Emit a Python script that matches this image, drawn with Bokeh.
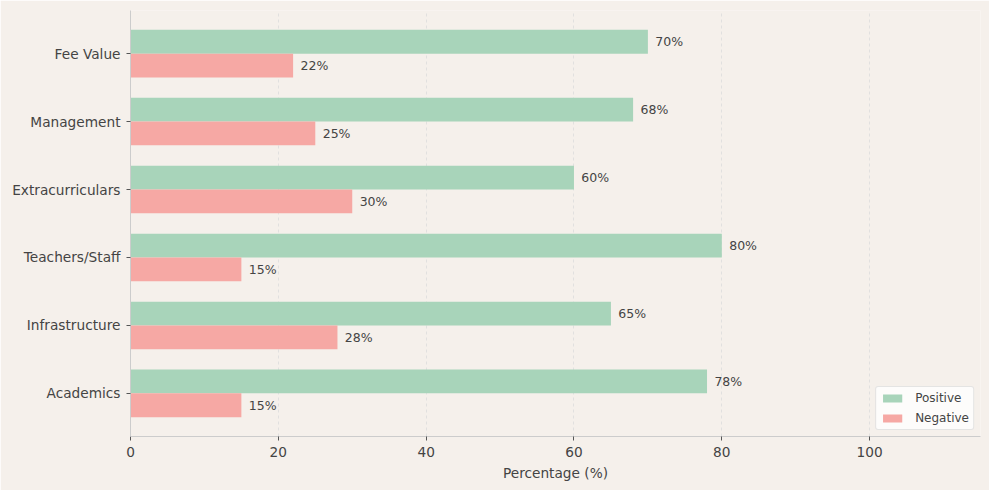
import numpy as np
from bokeh.plotting import figure
from bokeh.models import ColumnDataSource, FixedTicker, Legend, LegendItem, Range1d
from bokeh.core.properties import value
from bokeh.embed import file_html
from bokeh.resources import INLINE

categories = ["Academics", "Infrastructure", "Teachers/Staff", "Extracurriculars", "Management", "Fee Value"]
positive = [78, 65, 80, 60, 68, 70]
negative = [15, 28, 15, 30, 25, 22]
x_ticks = [0, 20, 40, 60, 80, 100]

BG = "#f5f0eb"
GREEN = "#a8d4ba"
RED = "#f6a8a4"
TXT = "#444444"
FONT = "DejaVu Sans"
BW = 0.35

ys = np.arange(len(categories))
src = ColumnDataSource(dict(
    y_pos=ys + BW / 2, y_neg=ys - BW / 2,
    pos=positive, neg=negative,
    pos_lbl=[f"{v}%" for v in positive], neg_lbl=[f"{v}%" for v in negative],
    pos_x=[v + 1 for v in positive], neg_x=[v + 1 for v in negative],
))

p = figure(width=989, height=490, output_backend="svg", toolbar_location=None,
           x_range=Range1d(0, 115), y_range=Range1d(-0.635, len(categories) - 1 + 0.635),
           min_border_left=130, min_border_right=9, min_border_top=10, min_border_bottom=54)
p.background_fill_color = BG
p.border_fill_color = BG
p.outline_line_color = None

r_pos = p.hbar(y="y_pos", left=0, right="pos", height=BW, source=src, color=GREEN, line_color=None)
r_neg = p.hbar(y="y_neg", left=0, right="neg", height=BW, source=src, color=RED, line_color=None)

for xcol, ycol, lcol in [("pos_x", "y_pos", "pos_lbl"), ("neg_x", "y_neg", "neg_lbl")]:
    p.text(x=xcol, y=ycol, text=lcol, source=src, text_font=value(FONT),
           text_font_size="12.5px", text_color=TXT, text_baseline="middle", text_align="left")

p.xaxis.ticker = FixedTicker(ticks=x_ticks)
p.yaxis.ticker = FixedTicker(ticks=list(ys))
p.yaxis.major_label_overrides = {int(i): c for i, c in zip(ys, categories)}
p.xaxis.axis_label = "Percentage (%)"

for ax in (p.xaxis[0], p.yaxis[0]):
    ax.axis_line_color = "#cccccc"
    ax.major_tick_line_color = "#555555"
    ax.major_tick_out = 4
    ax.major_tick_in = 0
    ax.minor_tick_line_color = None
    ax.major_label_text_font = FONT
    ax.major_label_text_font_size = "13.7px"
    ax.major_label_text_color = TXT
    ax.major_label_standoff = 6
    ax.axis_label_text_font = FONT
    ax.axis_label_text_font_size = "13.7px"
    ax.axis_label_text_font_style = "normal"
    ax.axis_label_text_color = TXT
p.xaxis.axis_label_standoff = 5

p.xgrid.grid_line_color = "#dcdcdc"
p.xgrid.grid_line_dash = "3 3"
p.xgrid.grid_line_width = 0.8
p.ygrid.grid_line_color = None

legend = Legend(items=[LegendItem(label="Positive", renderers=[r_pos]),
                       LegendItem(label="Negative", renderers=[r_neg])],
                location="bottom_right")
legend.margin = 6
legend.padding = 4
legend.spacing = 6
legend.label_height = 14
legend.glyph_height = 10
legend.glyph_width = 24
legend.label_standoff = 11
legend.label_text_font = FONT
legend.label_text_font_size = "12px"
legend.label_text_color = TXT
legend.background_fill_color = "white"
legend.background_fill_alpha = 0.8
legend.border_line_color = "#cccccc"
legend.border_radius = 3
p.add_layout(legend)

html = file_html(p, INLINE)
html = html.replace("<body>", f'<body style="margin:0;background:{BG};">', 1)
open("out.html", "w").write(html)
